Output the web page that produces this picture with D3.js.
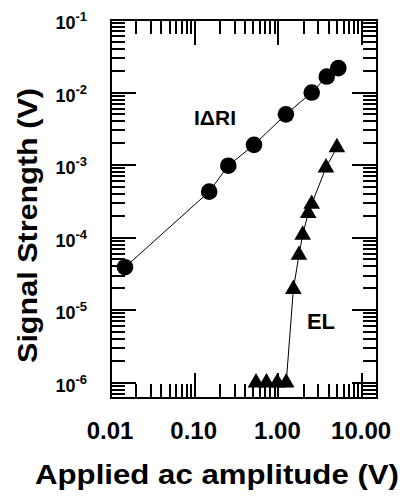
<!DOCTYPE html>
<html>
<head>
<meta charset="utf-8">
<script src="https://cdn.jsdelivr.net/npm/d3@7"></script>
<style>
  body { margin: 0; background: #fff; }
  text { font-family: "Liberation Sans", Arial, sans-serif; font-weight: bold; fill: #000; }
</style>
</head>
<body>
<script>
// data
var drX = [0.0147, 0.149, 0.252, 0.511, 1.23, 2.5, 3.78, 5.2];
var drY = [3.9e-5, 4.3e-4, 9.8e-4, 1.9e-3, 5.0e-3, 1.0e-2, 1.66e-2, 2.17e-2];
var elX = [0.54, 0.72, 0.97, 1.24, 1.51, 1.76, 1.95, 2.27, 2.5, 3.7, 5.0];
var elY = [1e-6, 1e-6, 1e-6, 1e-6, 1.94e-5, 5.75e-5, 1.09e-4, 2.17e-4, 2.9e-4, 9.2e-4, 1.75e-3];
var xTickVals = [0.01, 0.1, 1, 10];
var xTickLabels = ['0.01', '0.10', '1.00', '10.00'];
var yTickExp = [-1, -2, -3, -4, -5, -6];

var pLeft = 111, pRight = 377, pTop = 20, pBottom = 398;

var svg = d3.select('body').append('svg')
  .attr('width', 406)
  .attr('height', 497);

var x = d3.scaleLog().domain([0.01, 15.07]).range([pLeft, pRight]);
var y = d3.scaleLog().domain([6.14e-7, 0.1]).range([pBottom, pTop]);

// minor ticks
var xMinor = [];
[0.01, 0.1, 1, 10].forEach(function(d){
  for (var m = 2; m <= 9; m++){
    if (d * m <= x.domain()[1]) xMinor.push(d * m);
  }
});
var yMajor = yTickExp.map(function(e){ return Math.pow(10, e); });
var yMinor = [];
[-7, -6, -5, -4, -3, -2].forEach(function(e){
  for (var m = 2; m <= 9; m++){
    var v = m * Math.pow(10, e);
    if (v >= y.domain()[0] && v <= y.domain()[1]) yMinor.push(v);
  }
});

// frame and inward ticks on all four sides, from the scales
function tickPath(vals, side, len){
  return vals.map(function(v){
    var px = Math.round(x(v)), py = Math.round(y(v));
    if (side === 'bottom') return 'M' + px + ',' + pBottom + 'V' + (pBottom - len);
    if (side === 'top') return 'M' + px + ',' + pTop + 'V' + (pTop + len);
    if (side === 'left') return 'M' + pLeft + ',' + py + 'H' + (pLeft + len);
    return 'M' + pRight + ',' + py + 'H' + (pRight - len);
  }).join('');
}

var tickD = [
  tickPath(xTickVals, 'bottom', 25), tickPath(xMinor, 'bottom', 14),
  tickPath(xTickVals, 'top', 25), tickPath(xMinor, 'top', 14),
  tickPath(yMajor, 'left', 25), tickPath(yMinor, 'left', 14),
  tickPath(yMajor, 'right', 25), tickPath(yMinor, 'right', 14)
];

var tickG = svg.append('g').attr('class', 'ticks');
tickG.selectAll('path')
  .data(tickD)
  .enter().append('path')
  .attr('d', function(d){ return d; })
  .attr('fill', 'none')
  .attr('stroke', '#000')
  .attr('stroke-width', 2)
  .attr('shape-rendering', 'crispEdges');

svg.append('rect')
  .attr('x', pLeft).attr('y', pTop)
  .attr('width', pRight - pLeft).attr('height', pBottom - pTop)
  .attr('fill', 'none')
  .attr('stroke', '#000')
  .attr('stroke-width', 2)
  .attr('shape-rendering', 'crispEdges');

// tick labels
svg.selectAll('.xlab')
  .data(xTickVals)
  .enter().append('text')
  .attr('class', 'xlab')
  .attr('x', function(d){ return x(d) - 1; })
  .attr('y', 439)
  .attr('text-anchor', 'middle')
  .style('font-size', '24px')
  .text(function(d, i){ return xTickLabels[i]; });

var ylab = svg.selectAll('.ylab')
  .data(yTickExp)
  .enter().append('text')
  .attr('class', 'ylab')
  .attr('x', 87)
  .attr('y', function(d){ return y(Math.pow(10, d)) + 9; })
  .attr('text-anchor', 'end')
  .style('font-size', '18px');
ylab.append('tspan')
  .style('font-size', '18px')
  .text('10');
ylab.append('tspan')
  .attr('dy', -8)
  .style('font-size', '13px')
  .text(function(d){ return '-' + Math.abs(d); });

// axis titles
svg.append('text')
  .attr('x', 217)
  .attr('y', 484)
  .attr('text-anchor', 'middle')
  .attr('textLength', 364)
  .attr('lengthAdjust', 'spacingAndGlyphs')
  .style('font-size', '28px')
  .text('Applied ac amplitude (V)');

svg.append('text')
  .attr('transform', 'translate(37,225.5) rotate(-90)')
  .attr('text-anchor', 'middle')
  .attr('textLength', 275)
  .attr('lengthAdjust', 'spacingAndGlyphs')
  .style('font-size', '28px')
  .text('Signal Strength (V)');

// series
var lineGen = d3.line()
  .x(function(d){ return x(d[0]); })
  .y(function(d){ return y(d[1]); });

var drData = drX.map(function(v, i){ return [v, drY[i]]; });
var elData = elX.map(function(v, i){ return [v, elY[i]]; });

svg.append('path')
  .datum(drData)
  .attr('d', lineGen)
  .attr('fill', 'none')
  .attr('stroke', '#000')
  .attr('stroke-width', 1);

svg.append('path')
  .datum(elData)
  .attr('d', lineGen)
  .attr('fill', 'none')
  .attr('stroke', '#000')
  .attr('stroke-width', 1);

svg.selectAll('.dot')
  .data(drData)
  .enter().append('circle')
  .attr('class', 'dot')
  .attr('cx', function(d){ return x(d[0]); })
  .attr('cy', function(d){ return y(d[1]); })
  .attr('r', 8.3)
  .attr('fill', '#000');

svg.selectAll('.tri')
  .data(elData)
  .enter().append('path')
  .attr('class', 'tri')
  .attr('d', d3.symbol().type(d3.symbolTriangle).size(120))
  .attr('transform', function(d){ return 'translate(' + x(d[0]) + ',' + y(d[1]) + ')'; })
  .attr('fill', '#000');

// series labels
svg.append('text')
  .attr('x', 215).attr('y', 125)
  .attr('text-anchor', 'middle')
  .style('font-size', '21px')
  .text('I\u0394RI');

svg.append('text')
  .attr('x', 321).attr('y', 329)
  .attr('text-anchor', 'middle')
  .style('font-size', '22px')
  .text('EL');
</script>
</body>
</html>
